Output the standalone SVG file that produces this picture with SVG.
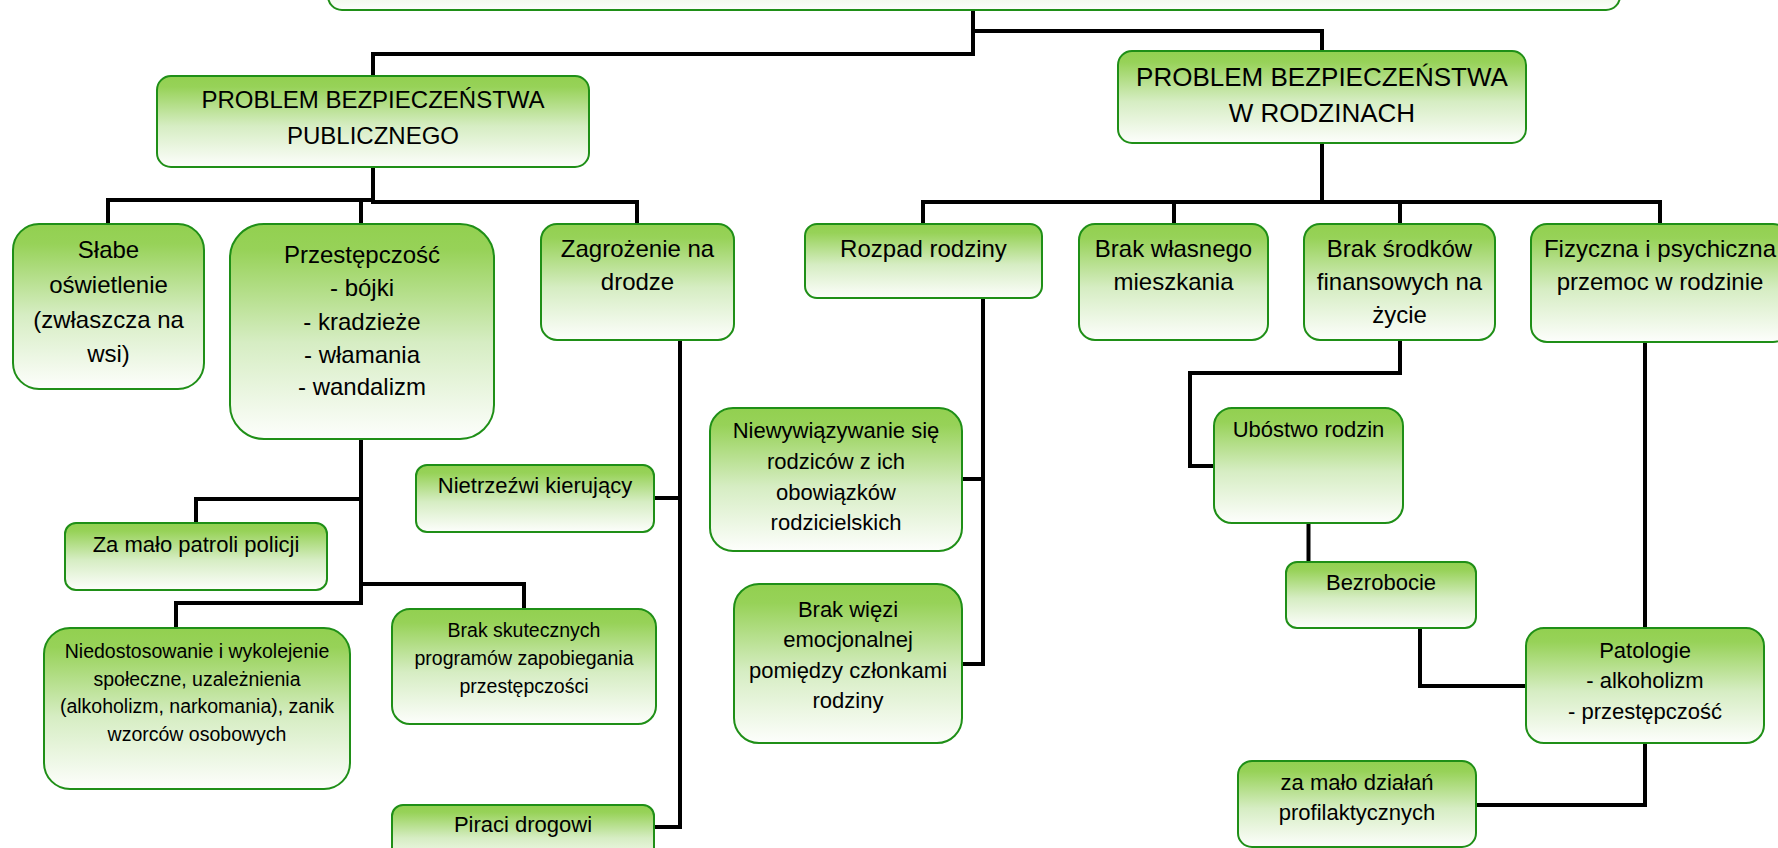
<svg xmlns="http://www.w3.org/2000/svg" width="1778" height="848" viewBox="0 0 1778 848">
<defs>
<linearGradient id="g" x1="0" y1="0" x2="0" y2="1">
<stop offset="0" stop-color="#92d050"/>
<stop offset="0.12" stop-color="#97d258"/>
<stop offset="0.55" stop-color="#d6edc3"/>
<stop offset="1" stop-color="#fdfefc"/>
</linearGradient>
</defs>
<style>
.b{fill:url(#g);stroke:#1f8f17;stroke-width:2}
.c{fill:none;stroke:#000;stroke-width:4}
text{font-family:"Liberation Sans",Arial,sans-serif;fill:#000;text-anchor:middle}
.t24{font-size:24px}
.t26{font-size:26px}
.t22{font-size:22px}
.t19{font-size:19.5px}
</style>
<rect width="1778" height="848" fill="#fff"/>
<g id="connectors" class="c">
<path d="M973,10 V54 H373 V76"/>
<path d="M973,31 H1322 V51"/>
<path d="M108,224 V200 H373"/>
<path d="M373,167 V202 H637 V224"/>
<path d="M361,200 V224"/>
<path d="M361,439 V603 H176 V628"/>
<path d="M361,499 H196 V523"/>
<path d="M361,584 H524 V609"/>
<path d="M680,340 V827 H654"/>
<path d="M654,498 H680"/>
<path d="M1322,143 V202"/>
<path d="M923,224 V202 H1660 V224"/>
<path d="M1174,202 V224"/>
<path d="M1400,202 V224"/>
<path d="M983,298 V664 H962"/>
<path d="M962,479 H983"/>
<path d="M1400,340 V373 H1190 V466 H1214"/>
<path d="M1308.5,523 V562"/>
<path d="M1420,628 V686 H1526"/>
<path d="M1645,342 V628"/>
<path d="M1645,743 V805 H1476"/>
</g>
<g id="n-top"><rect class="b" x="328" y="-80" width="1292" height="90" rx="14"/></g>
<g id="n-publiczny"><rect class="b" x="157" y="76" width="432" height="91" rx="14"/>
<text class="t24"><tspan x="373" y="108">PROBLEM BEZPIECZEŃSTWA</tspan><tspan x="373" y="144">PUBLICZNEGO</tspan></text></g>
<g id="n-rodziny"><rect class="b" x="1118" y="51" width="408" height="92" rx="14"/>
<text class="t26"><tspan x="1322" y="85.5">PROBLEM BEZPIECZEŃSTWA</tspan><tspan x="1322" y="122">W RODZINACH</tspan></text></g>
<g id="n-slabe"><rect class="b" x="13" y="224" width="191" height="165" rx="26"/>
<text class="t24"><tspan x="108.5" y="258">Słabe</tspan><tspan x="108.5" y="293">oświetlenie</tspan><tspan x="108.5" y="328">(zwłaszcza na</tspan><tspan x="108.5" y="362">wsi)</tspan></text></g>
<g id="n-przest"><rect class="b" x="230" y="224" width="264" height="215" rx="34"/>
<text class="t24"><tspan x="362" y="263">Przestępczość</tspan><tspan x="362" y="296">- bójki</tspan><tspan x="362" y="330">- kradzieże</tspan><tspan x="362" y="363">- włamania</tspan><tspan x="362" y="395">- wandalizm</tspan></text></g>
<g id="n-zagrozenie"><rect class="b" x="541" y="224" width="193" height="116" rx="16"/>
<text class="t24"><tspan x="637.5" y="257">Zagrożenie na</tspan><tspan x="637.5" y="290">drodze</tspan></text></g>
<g id="n-rozpad"><rect class="b" x="805" y="224" width="237" height="74" rx="12"/>
<text class="t24"><tspan x="923.5" y="257">Rozpad rodziny</tspan></text></g>
<g id="n-mieszkanie"><rect class="b" x="1079" y="224" width="189" height="116" rx="16"/>
<text class="t24"><tspan x="1173.5" y="257">Brak własnego</tspan><tspan x="1173.5" y="290">mieszkania</tspan></text></g>
<g id="n-srodki"><rect class="b" x="1304" y="224" width="191" height="116" rx="16"/>
<text class="t24"><tspan x="1399.5" y="257">Brak środków</tspan><tspan x="1399.5" y="290">finansowych na</tspan><tspan x="1399.5" y="323">życie</tspan></text></g>
<g id="n-przemoc"><rect class="b" x="1531" y="224" width="258" height="118" rx="16"/>
<text class="t24"><tspan x="1660" y="257">Fizyczna i psychiczna</tspan><tspan x="1660" y="290">przemoc w rodzinie</tspan></text></g>
<g id="n-patrole"><rect class="b" x="65" y="523" width="262" height="67" rx="11"/>
<text class="t22"><tspan x="196" y="552">Za mało patroli policji</tspan></text></g>
<g id="n-niedostosowanie"><rect class="b" x="44" y="628" width="306" height="161" rx="26"/>
<text class="t19"><tspan x="197" y="658">Niedostosowanie i wykolejenie</tspan><tspan x="197" y="686">społeczne, uzależnienia</tspan><tspan x="197" y="713">(alkoholizm, narkomania), zanik</tspan><tspan x="197" y="741">wzorców osobowych</tspan></text></g>
<g id="n-programy"><rect class="b" x="392" y="609" width="264" height="115" rx="18"/>
<text class="t19"><tspan x="524" y="637">Brak skutecznych</tspan><tspan x="524" y="665">programów zapobiegania</tspan><tspan x="524" y="693">przestępczości</tspan></text></g>
<g id="n-nietrzezwi"><rect class="b" x="416" y="465" width="238" height="67" rx="11"/>
<text class="t22"><tspan x="535" y="493">Nietrzeźwi kierujący</tspan></text></g>
<g id="n-piraci"><rect class="b" x="392" y="805" width="262" height="60" rx="11"/>
<text class="t22"><tspan x="523" y="832">Piraci drogowi</tspan></text></g>
<g id="n-niewywiazywanie"><rect class="b" x="710" y="408" width="252" height="143" rx="23"/>
<text class="t22"><tspan x="836" y="438">Niewywiązywanie się</tspan><tspan x="836" y="469">rodziców z ich</tspan><tspan x="836" y="500">obowiązków</tspan><tspan x="836" y="530">rodzicielskich</tspan></text></g>
<g id="n-wiezi"><rect class="b" x="734" y="584" width="228" height="159" rx="25"/>
<text class="t22"><tspan x="848" y="617">Brak więzi</tspan><tspan x="848" y="647">emocjonalnej</tspan><tspan x="848" y="678">pomiędzy członkami</tspan><tspan x="848" y="708">rodziny</tspan></text></g>
<g id="n-ubostwo"><rect class="b" x="1214" y="408" width="189" height="115" rx="18"/>
<text class="t22"><tspan x="1308.5" y="437">Ubóstwo rodzin</tspan></text></g>
<g id="n-bezrobocie"><rect class="b" x="1286" y="562" width="190" height="66" rx="11"/>
<text class="t22"><tspan x="1381" y="590">Bezrobocie</tspan></text></g>
<g id="n-patologie"><rect class="b" x="1526" y="628" width="238" height="115" rx="18"/>
<text class="t22"><tspan x="1645" y="658">Patologie</tspan><tspan x="1645" y="688">- alkoholizm</tspan><tspan x="1645" y="719">- przestępczość</tspan></text></g>
<g id="n-profilaktyka"><rect class="b" x="1238" y="761" width="238" height="86" rx="14"/>
<text class="t22"><tspan x="1357" y="790">za mało działań</tspan><tspan x="1357" y="820">profilaktycznych</tspan></text></g>
</svg>
